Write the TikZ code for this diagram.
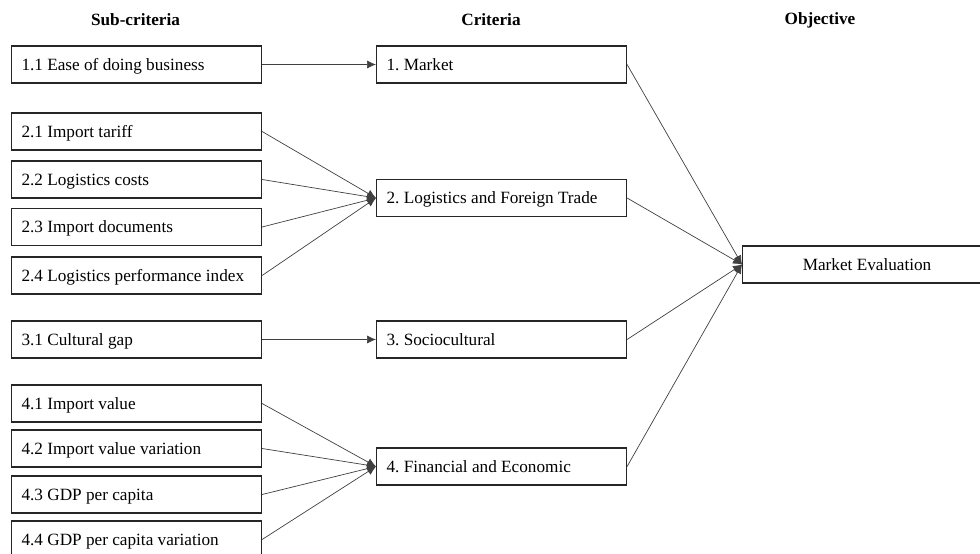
\documentclass[tikz,border=0pt]{standalone}
\usepackage{fontspec}
\setmainfont{Liberation Serif}
\usetikzlibrary{arrows.meta}

\tikzset{
  caja/.style={draw=black!85, line width=1.1pt, anchor=west, minimum height=37pt,
    text width=230pt, inner xsep=10pt, inner ysep=0pt, align=flush left,
    text height=11.5pt, text depth=0pt},
  objetivo/.style={caja, text width=229pt, align=flush center},
  titulo/.style={font=\bfseries},
  flecha/.style={draw=black!75, line width=0.7pt, -{Latex[length=9pt,width=8pt]}}
}

\begin{document}
\begin{tikzpicture}[x=1pt,y=-1pt]
   \fontsize{17.2}{21}\selectfont\frenchspacing
   \clip (0,0) rectangle (980,554);

   %titulos
   \node[titulo] (tsub) at (135.5,20) {Sub-criteria};
   \node[titulo] (tcri) at (491,20) {Criteria};
   \node[titulo] (tobj) at (820,20) {Objective};

   %sub-criterios
   \node[caja] (s11) at (11,64.5) {1.1 Ease of doing business};
   \node[caja] (s21) at (11,131.5) {2.1 Import tariff};
   \node[caja] (s22) at (11,179.5) {2.2 Logistics costs};
   \node[caja] (s23) at (11,227) {2.3 Import documents};
   \node[caja] (s24) at (11,275.5) {2.4 Logistics performance index};
   \node[caja] (s31) at (11,339.5) {3.1 Cultural gap};
   \node[caja] (s41) at (11,403.5) {4.1 Import value};
   \node[caja] (s42) at (11,448.5) {4.2 Import value variation};
   \node[caja] (s43) at (11,494.5) {4.3 GDP per capita};
   \node[caja] (s44) at (11,539.5) {4.4 GDP per capita variation};

   %criterios
   \node[caja] (c1) at (376,64.5) {1. Market};
   \node[caja] (c2) at (376,198) {2. Logistics and Foreign Trade};
   \node[caja] (c3) at (376,339.5) {3. Sociocultural};
   \node[caja] (c4) at (376,466.5) {4. Financial and Economic};

   %objetivo
   \node[objetivo] (obj) at (742,264.5) {Market Evaluation};

   %flechas
   \draw[flecha] (s11.east) -- (c1.west);
   \draw[flecha] (s21.east) -- (c2.west);
   \draw[flecha] (s22.east) -- (c2.west);
   \draw[flecha] (s23.east) -- (c2.west);
   \draw[flecha] (s24.east) -- (c2.west);
   \draw[flecha] (s31.east) -- (c3.west);
   \draw[flecha] (s41.east) -- (c4.west);
   \draw[flecha] (s42.east) -- (c4.west);
   \draw[flecha] (s43.east) -- (c4.west);
   \draw[flecha] (s44.east) -- (c4.west);
   \draw[flecha] (c1.east) -- (obj.west);
   \draw[flecha] (c2.east) -- (obj.west);
   \draw[flecha] (c3.east) -- (obj.west);
   \draw[flecha] (c4.east) -- (obj.west);
\end{tikzpicture}
\end{document}
